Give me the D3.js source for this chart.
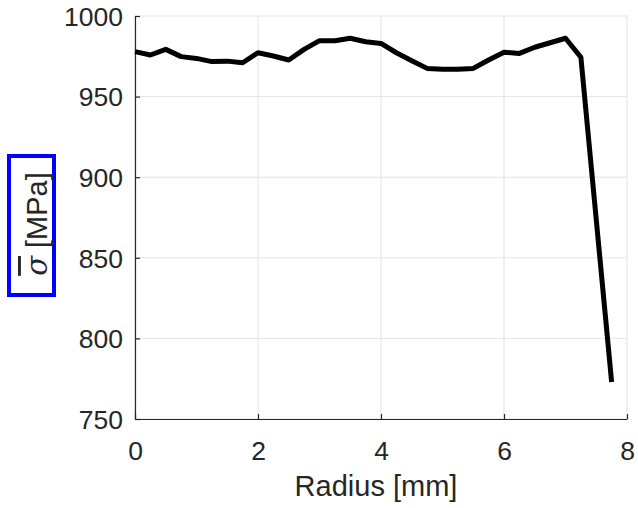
<!DOCTYPE html>
<html><head><meta charset="utf-8">
<script src="https://cdn.jsdelivr.net/npm/d3@7"></script>
<style>body{margin:0;background:#fff}svg{display:block}text{font-family:"Liberation Sans",Arial,sans-serif;fill:#262626}</style>
</head><body>
<svg id="c" width="638" height="508"></svg>
<script>
const radius = [0,0.25,0.5,0.75,1.0,1.25,1.5,1.75,2.0,2.25,2.5,2.75,3.0,3.25,3.5,3.75,4.0,4.25,4.5,4.75,5.0,5.25,5.5,5.75,6.0,6.25,6.5,6.75,7.0,7.25,7.75];
const stress = [977.9,975.8,979.3,974.8,973.7,971.7,972,971,977.2,975.2,972.7,979.3,984.7,984.7,986.2,984,983,977.2,972.3,967.5,967,966.9,967.5,972.7,977.5,976.8,980.6,983.4,986.2,974.4,773];
const xTicks = [0,2,4,6,8];
const yTicks = [750,800,850,900,950,1000];
const xLabel = "Radius [mm]";

const svg = d3.select("#c");
const L=135, R=627, T=16, B=419;
const x = d3.scaleLinear().domain([0,8]).range([L,R]);
const y = d3.scaleLinear().domain([750,1000]).range([B,T]);

// grid
svg.append("g").selectAll("line").data(xTicks).join("line")
  .attr("x1",d=>x(d)).attr("x2",d=>x(d)).attr("y1",T).attr("y2",B)
  .attr("stroke","#e3e3e3").attr("stroke-width",1);
svg.append("g").selectAll("line").data(yTicks).join("line")
  .attr("x1",L).attr("x2",R).attr("y1",d=>y(d)).attr("y2",d=>y(d))
  .attr("stroke","#e3e3e3").attr("stroke-width",1);

// axes
const xa = svg.append("g").attr("transform",`translate(0,${B})`)
  .call(d3.axisBottom(x).tickValues(xTicks).tickSizeInner(-5).tickSizeOuter(0).tickPadding(22).tickFormat(d3.format("d")));
const ya = svg.append("g").attr("transform",`translate(${L},0)`)
  .call(d3.axisLeft(y).tickValues(yTicks).tickSizeInner(-5).tickSizeOuter(0).tickPadding(12).tickFormat(d3.format("d")));
[xa,ya].forEach(a=>{
  a.selectAll(".domain").attr("stroke","#262626").attr("stroke-width",1.2);
  a.selectAll(".tick line").attr("stroke","#262626").attr("stroke-width",1.2);
  a.selectAll("text").style("font-size","26.5px").attr("fill","#262626");
});
xa.selectAll("text").attr("dy","0.71em");
ya.selectAll("text").attr("dy","0.35em");

// line
svg.append("path").datum(radius.map((r,i)=>[r,stress[i]]))
  .attr("d",d3.line().x(d=>x(d[0])).y(d=>y(d[1])))
  .attr("fill","none").attr("stroke","#000").attr("stroke-width",5).attr("stroke-linejoin","round");

// x label
svg.append("text").attr("x",376).attr("y",496).attr("text-anchor","middle")
  .style("font-size","29px").text(xLabel);

// y label with box
svg.append("rect").attr("x",9).attr("y",156).attr("width",45).attr("height",139)
  .attr("fill","none").attr("stroke","#0000ff").attr("stroke-width",4);
const yl = svg.append("text").attr("transform","translate(47,224) rotate(-90)")
  .attr("text-anchor","middle").style("font-size","29px");
yl.append("tspan").style("font-style","italic").style("font-family","DejaVu Serif").style("text-decoration","overline").text("σ");
yl.append("tspan").text(" [MPa]");
</script>
</body></html>
